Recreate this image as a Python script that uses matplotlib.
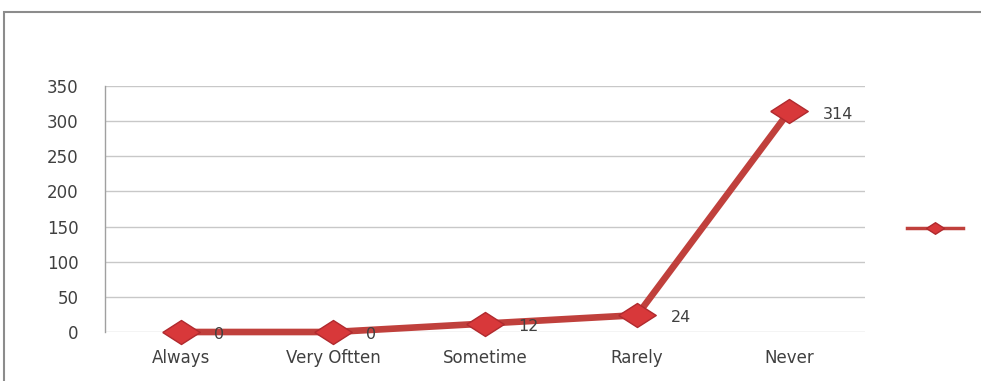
import matplotlib
matplotlib.use('Agg')
import matplotlib.pyplot as plt
from matplotlib.patches import Rectangle
from matplotlib.lines import Line2D

categories = ['Always', 'Very Oftten', 'Sometime', 'Rarely', 'Never']
counts = [0, 0, 12, 24, 314]
yticks = [0, 50, 100, 150, 200, 250, 300, 350]

line_color = '#c0403c'
text_color = '#404040'
# flattened diamond, wider than tall
diamond = [(-1, 0), (0, 0.64), (1, 0), (0, -0.64), (-1, 0)]

fig = plt.figure(figsize=(9.81, 3.81), dpi=100)
ax = fig.add_axes([0.107, 0.1286, 0.775, 0.6454])

x = list(range(len(categories)))
ax.plot(x, counts, color=line_color, linewidth=4.8, marker=diamond,
        markersize=27, markerfacecolor='#d8383a', markeredgecolor='#b02a2e',
        markeredgewidth=1, solid_capstyle='round', clip_on=False, zorder=3)

for xi, v in zip(x, counts):
    ax.annotate(str(v), (xi, v), xytext=(24, -2), textcoords='offset points',
                ha='left', va='center', fontsize=11.5, color=text_color,
                annotation_clip=False, zorder=4)

ax.set_xlim(-0.5, len(categories) - 0.5)
ax.set_ylim(0, 350)
ax.set_yticks(yticks)
ax.set_xticks(x)
ax.set_xticklabels(categories)
ax.tick_params(axis='both', length=0, labelsize=12, colors=text_color)
ax.tick_params(axis='y', pad=19)
ax.tick_params(axis='x', pad=12)
ax.grid(axis='y', color='#c8c8c8', linewidth=1)
ax.set_axisbelow(True)
for side in ['top', 'right', 'bottom']:
    ax.spines[side].set_visible(False)
ax.spines['left'].set_color('#a0a0a0')
ax.spines['left'].set_linewidth(1)

# legend key with no text, right of the plot
fig.add_artist(Line2D([0.925, 0.982], [0.402, 0.402], transform=fig.transFigure,
                      color=line_color, linewidth=2.5))
fig.add_artist(Line2D([0.953], [0.402], transform=fig.transFigure,
                      marker=diamond, markersize=13, color=line_color,
                      markerfacecolor='#d8383a', markeredgecolor='#b02a2e'))

# outer chart border
fig.add_artist(Rectangle((0.004, -0.05), 1.1, 1.0185,
                         transform=fig.transFigure, fill=False,
                         edgecolor='#8c8c8c', linewidth=1.5))

fig.savefig('out.png', dpi=100)
